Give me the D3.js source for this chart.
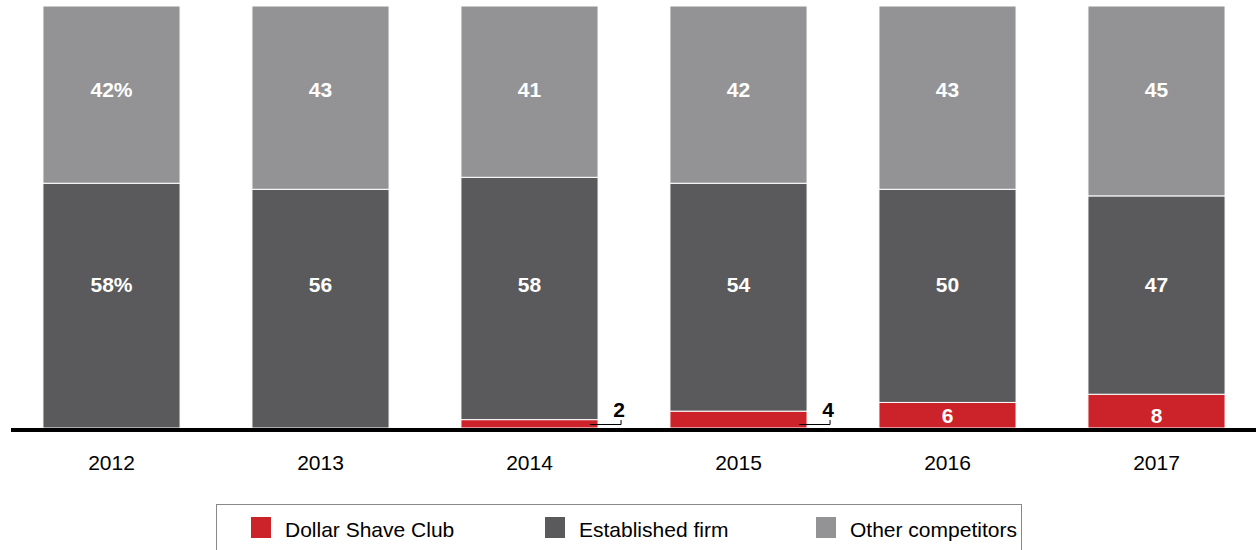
<!DOCTYPE html>
<html>
<head>
<meta charset="utf-8">
<script src="https://cdn.jsdelivr.net/npm/d3@7"></script>
<style>
  body { margin: 0; background: #fff; }
  svg { display: block; font-family: "Liberation Sans", Arial, sans-serif; }
</style>
</head>
<body>
<svg id="chart" width="1256" height="550"></svg>
<script>
`use strict`;

const years = [`2012`, `2013`, `2014`, `2015`, `2016`, `2017`];
const dollarShave = [0, 0, 2, 4, 6, 8];
const established = [58, 56, 58, 54, 50, 47];
const others = [42, 43, 41, 42, 43, 45];
const firstLabels = [`58%`, `56`, `58`, `54`, `50`, `47`];
const otherLabels = [`42%`, `43`, `41`, `42`, `43`, `45`];

const seriesKeys = [`dsc`, `est`, `oth`];
const seriesNames = [`Dollar Shave Club`, `Established firm`, `Other competitors`];
const colors = [`#cc2229`, `#5a5a5c`, `#939396`];

(function () {

  const W = 1256;
  const baseY = 428, topY = 6;

  const rows = years.map((yr, i) => {
    let t = dollarShave[i] + established[i] + others[i];
    return {year: yr, dsc: dollarShave[i] / t, est: established[i] / t, oth: others[i] / t, i: i};
  });

  const svg = d3.select(`#chart`);

  const x = d3.scaleBand().domain(years).range([7, 1261]).paddingInner(0.344).paddingOuter(0.172);
  const y = d3.scaleLinear().domain([0, 1]).range([baseY, topY]);

  const stack = d3.stack().keys(seriesKeys)(rows);

  const layers = svg.append(`g`).selectAll(`g`).data(stack)
    .enter().append(`g`)
    .attr(`fill`, (d, i) => colors[i]);

  layers.selectAll(`rect`).data(d => d.filter(s => s[1] - s[0] > 0))
    .enter().append(`rect`)
    .attr(`x`, d => x(d.data.year))
    .attr(`width`, x.bandwidth())
    .attr(`y`, d => y(d[1]))
    .attr(`height`, d => y(d[0]) - y(d[1]))
    .attr(`stroke`, `#fff`)
    .attr(`stroke-width`, 1);

  // segment labels
  const lab = svg.append(`g`)
    .attr(`font-size`, `21px`)
    .attr(`font-weight`, `bold`)
    .attr(`text-anchor`, `middle`);

  lab.selectAll(`text.oth`).data(rows).enter().append(`text`)
    .attr(`x`, d => x(d.year) + x.bandwidth() / 2)
    .attr(`y`, 97)
    .attr(`fill`, `#fff`)
    .text(d => otherLabels[d.i]);

  lab.selectAll(`text.est`).data(rows).enter().append(`text`)
    .attr(`x`, d => x(d.year) + x.bandwidth() / 2)
    .attr(`y`, 292)
    .attr(`fill`, `#fff`)
    .text(d => firstLabels[d.i]);

  // red labels: inside when big enough, callout otherwise
  rows.forEach(d => {
    let v = dollarShave[d.i];
    if (v === 0) return;
    let bx = x(d.year), bw = x.bandwidth();
    if (v >= 6) {
      lab.append(`text`)
        .attr(`x`, bx + bw / 2)
        .attr(`y`, 423)
        .attr(`fill`, `#fff`)
        .text(v);
    } else {
      let lx = bx + bw - 8, rx = bx + bw + 23;
      svg.append(`path`)
        .attr(`d`, `M${lx},424.5H${rx}V420`)
        .attr(`fill`, `none`)
        .attr(`stroke`, `#000`)
        .attr(`stroke-width`, 1);
      lab.append(`text`)
        .attr(`x`, rx - 2)
        .attr(`y`, 417)
        .attr(`fill`, `#000`)
        .text(v);
    }
  });

  // baseline
  svg.append(`line`)
    .attr(`x1`, 11).attr(`x2`, W)
    .attr(`y1`, baseY + 2).attr(`y2`, baseY + 2)
    .attr(`stroke`, `#000`)
    .attr(`stroke-width`, 4);

  // year axis
  const xAxis = d3.axisBottom(x).tickSize(0).tickPadding(0);
  const ax = svg.append(`g`)
    .attr(`transform`, `translate(0,470)`)
    .call(xAxis);
  ax.select(`.domain`).remove();
  ax.selectAll(`text`)
    .attr(`font-size`, `21px`)
    .attr(`font-family`, `"Liberation Sans", Arial, sans-serif`)
    .attr(`fill`, `#000`)
    .attr(`y`, 0)
    .attr(`dy`, 0);

  // legend
  const leg = svg.append(`g`);
  leg.append(`rect`)
    .attr(`x`, 216.5).attr(`y`, 504.5)
    .attr(`width`, 805).attr(`height`, 60)
    .attr(`fill`, `#fff`)
    .attr(`stroke`, `#888`)
    .attr(`stroke-width`, 1);

  const legX = [251, 545, 816];
  seriesNames.forEach((n, i) => {
    leg.append(`rect`)
      .attr(`x`, legX[i]).attr(`y`, 517)
      .attr(`width`, 20).attr(`height`, 21)
      .attr(`fill`, colors[i]);
    leg.append(`text`)
      .attr(`x`, legX[i] + 34).attr(`y`, 537)
      .attr(`font-size`, `21px`)
      .attr(`fill`, `#000`)
      .text(n);
  });
})();
</script>
</body>
</html>
